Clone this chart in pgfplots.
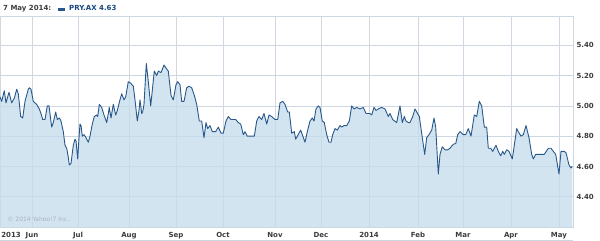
\documentclass[border=0pt]{standalone}
\usepackage{pgfplots}
\pgfplotsset{compat=1.18}
\usepackage{pgfplotstable}
\usepackage{fontspec}
\setmainfont{DejaVu Sans}
\definecolor{gridc}{RGB}{206,216,226}
\definecolor{linec}{RGB}{40,88,138}
\definecolor{fillc}{RGB}{196,219,236}
\definecolor{labc}{RGB}{60,60,60}
\definecolor{legc}{RGB}{25,70,130}
\definecolor{copyc}{RGB}{170,180,192}
\pgfplotstableread{
x y
0 5.06
1.7 5.03
4.3 5.10
6 5.02
9 5.09
11.7 5.02
13.3 5.04
14.3 5.05
16.7 5.11
18.3 5.08
20.7 4.93
22.7 4.92
25 5.03
28.3 5.11
29.3 5.12
31 5.11
33.3 5.03
36.7 5.01
39.3 4.98
41 4.95
42.7 4.91
45 4.91
47.3 5.00
49 5.00
51.7 4.86
53.3 4.89
55.7 4.96
57.3 4.91
59.3 4.92
61 4.90
63.3 4.83
65 4.74
66.7 4.72
68.3 4.66
69.3 4.61
71 4.62
73.3 4.74
75 4.78
76 4.77
77.7 4.65
79 4.79
80 4.88
81 4.87
82.3 4.80
84 4.81
86 4.79
88.3 4.76
90 4.80
92.3 4.88
94.3 4.93
96.7 4.94
97.7 4.93
99.3 5.01
101.7 4.99
104 4.94
106.7 4.89
108.3 4.95
109.3 4.99
111 4.92
113.3 5.01
115.7 4.94
117.3 4.97
120 5.04
121.7 5.08
124 5.04
125.7 5.06
128.3 5.16
130.7 5.15
133.3 5.13
135 5.04
137.3 4.90
139 4.97
140 5.04
141.7 4.95
142.7 4.96
144 5.01
146.3 5.28
148 5.18
150.7 5.00
154.3 5.23
156.7 5.20
158.3 5.23
161 5.22
164 5.27
166 5.25
168.3 5.23
171 5.07
173.3 5.04
176 5.14
177.7 5.16
180 5.14
181.7 5.03
184 5.03
186.7 5.12
189 5.13
191.7 5.12
194.3 5.07
196.7 5.01
199.3 4.90
201.7 4.90
204 4.79
206 4.89
207.7 4.85
210 4.87
212.3 4.83
215.7 4.83
218.3 4.86
221 4.82
223.3 4.82
226 4.90
228.3 4.93
231 4.91
233.3 4.91
235.7 4.91
238.3 4.89
240.7 4.88
243.3 4.81
245 4.83
247.3 4.80
250 4.80
254.3 4.80
256.7 4.90
259 4.93
261.7 4.91
264 4.95
266.7 4.88
269 4.94
271.7 4.93
275 4.91
277.7 4.91
280 5.02
282.7 5.03
285 5.01
287.7 4.96
289.3 4.96
291.7 4.82
294.3 4.83
295.7 4.78
300.7 4.84
305 4.76
307.3 4.83
310 4.90
312.3 4.92
314 4.90
316 4.98
318.3 5.00
320 4.99
322.3 4.90
324.3 4.89
326.7 4.81
329 4.76
331 4.76
332.7 4.81
335 4.85
337.3 4.84
340 4.87
341.7 4.86
344 4.87
346.7 4.87
349.3 4.90
351.7 5.00
354 4.98
356.7 4.99
360 4.98
363.3 4.99
366 4.95
370 4.95
371.7 4.94
374 4.99
376 4.97
378.3 4.98
381.7 4.99
385 4.98
388.3 4.93
390 4.95
392.7 4.91
396.7 4.89
400 5.00
402.3 4.89
404.3 4.93
406 4.90
408.3 4.89
410 4.89
412.7 4.93
415 4.98
416.7 4.96
419.3 4.93
422.3 4.79
424.7 4.68
426.7 4.79
429 4.81
431.7 4.84
434 4.92
435.7 4.86
438.3 4.55
440 4.68
442.3 4.73
445 4.71
447.7 4.71
450 4.72
452.3 4.74
454.3 4.75
455.7 4.75
457.7 4.81
460 4.83
463.3 4.81
465.7 4.81
468.3 4.85
471 4.80
474.3 4.94
476.7 4.93
479.3 5.03
481.7 5.00
484.3 4.86
486.7 4.86
488.3 4.72
490.7 4.72
492.7 4.70
496 4.74
498.3 4.70
500.7 4.67
502.7 4.70
504.3 4.68
506.7 4.71
509 4.70
512.3 4.65
516.7 4.85
518.3 4.83
521 4.80
523.3 4.81
526 4.87
529 4.79
531.7 4.68
533.3 4.65
535.7 4.68
538.3 4.68
541 4.68
544.3 4.68
548.3 4.72
551 4.72
553.3 4.70
555.7 4.68
559 4.55
561 4.70
564.3 4.70
566 4.69
569 4.61
571 4.59
572.3 4.60
}\pricedata
\begin{document}
\begin{tikzpicture}[x=1pt,y=1pt]
\path[use as bounding box] (0,-14) rectangle (600,227);
\begin{axis}[
  at={(0,0)}, anchor=south west,
  scale only axis, width=573pt, height=211pt,
  xmin=0, xmax=573, ymin=4.2, ymax=5.594,
  xtick={32,78,129,176,223,275,321,369,418,463,511,559},
  xticklabels={Jun,Jul,Aug,Sep,Oct,Nov,Dec,2014,Feb,Mar,Apr,May},
  extra x ticks={11}, extra x tick labels={2013},
  extra x tick style={grid=none},
  ytick={4.4,4.6,4.8,5.0,5.2,5.4},
  yticklabels={4.40,4.60,4.80,5.00,5.20,5.40},
  yticklabel pos=right,
  grid=major,
  grid style={gridc, line width=0.8pt},
  major tick length=0pt,
  axis line style={gridc, line width=0.8pt},
  tick label style={font=\bfseries\fontsize{7}{8}\selectfont, text=labc},
  xticklabel style={anchor=base, yshift=-10.5pt},
  yticklabel style={anchor=west},
]
\addplot[draw=none, fill=fillc, fill opacity=0.75] table {\pricedata} \closedcycle;
\addplot[linec, line width=0.9pt, line join=round] table {\pricedata};
\node[anchor=base west, font=\fontsize{6}{7}\selectfont, text=copyc] at (rel axis cs:0,0) [xshift=4pt, yshift=6pt] {© 2014 Yahoo!7 Inc.};
\end{axis}
\node[anchor=base west, inner sep=0pt, font=\bfseries\fontsize{7}{8}\selectfont, text=labc] at (3,216) {7 May 2014:};
\fill[linec] (58,216) rectangle (65,218.5);
\node[anchor=base west, inner sep=0pt, font=\bfseries\fontsize{7}{8}\selectfont, text=legc] at (69,216) {PRY.AX 4.63};
\draw[gridc, line width=0.8pt] (0,-13) -- (573,-13);
\end{tikzpicture}
\end{document}
